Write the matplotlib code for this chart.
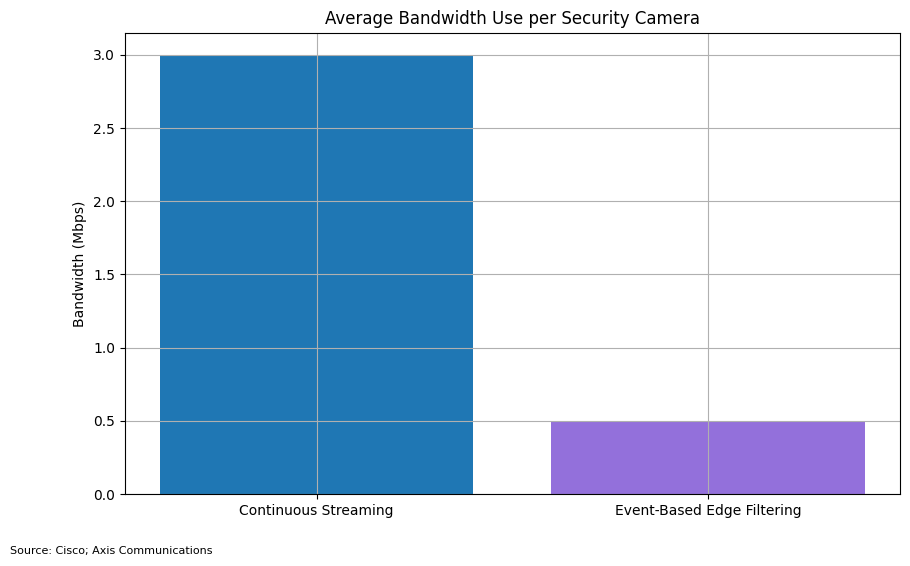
import matplotlib
matplotlib.use('Agg')
import matplotlib.pyplot as plt

# Bandwidth per camera, by streaming approach
methods = ['Continuous Streaming', 'Event-Based Edge Filtering']
bandwidth_mbps = [3.0, 0.5]
bar_colors = ['#1f77b4', 'mediumpurple']

fig, ax = plt.subplots(figsize=(9.1, 5.66), dpi=100)
ax.bar(methods, bandwidth_mbps, color=bar_colors)
ax.set_ylabel('Bandwidth (Mbps)')
ax.set_title('Average Bandwidth Use per Security Camera')
ax.grid(True)

fig.subplots_adjust(left=0.137, right=0.989, top=0.942, bottom=0.127)
fig.text(0.011, 0.021, 'Source: Cisco; Axis Communications', fontsize=8)

fig.savefig('out.png', dpi=100)
